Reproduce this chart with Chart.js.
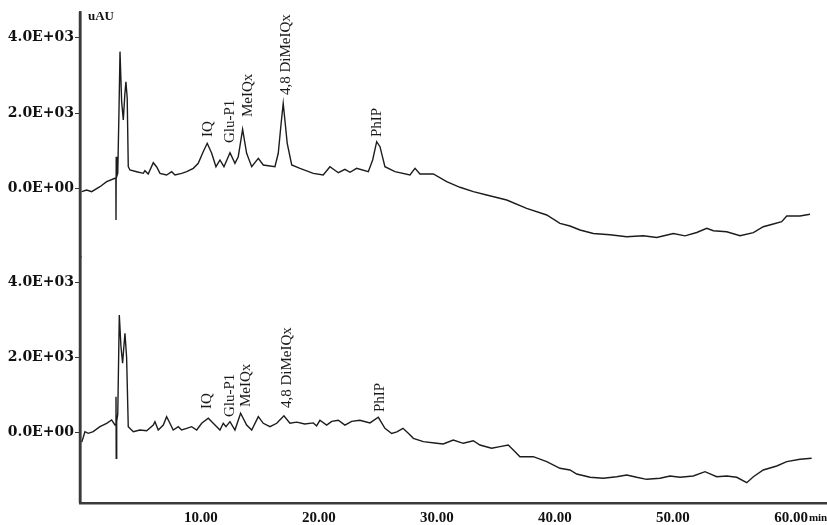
<!DOCTYPE html>
<html>
<head>
<meta charset="utf-8">
<title>HPLC chromatograms</title>
<script src="https://cdn.jsdelivr.net/npm/chart.js@4.4.1/dist/chart.umd.min.js"></script>
<style>
  html, body { margin: 0; padding: 0; background: #fff; }
  #wrap { width: 827px; height: 525px; }
</style>
</head>
<body>
<div id="wrap"><canvas id="chromChart" width="827" height="525"></canvas></div>
<script>
// retention time (min) and signal (uAU)
const topTime = [
    -0.1, 0.31, 0.74, 1.44, 2.01, 2.71, 2.79, 2.8, 2.82, 2.86,
    2.95, 3.05, 3.14, 3.28, 3.42, 3.55, 3.64, 3.75, 3.84, 3.98,
    4.55, 5.11, 5.25, 5.53, 5.96, 6.25, 6.53, 7.09, 7.52, 7.8,
    8.36, 8.79, 9.35, 9.77, 10.19, 10.53, 10.91, 11.27, 11.61, 11.95,
    12.46, 12.88, 13.16, 13.53, 13.87, 14.3, 14.86, 15.28, 16.27, 16.55,
    16.78, 16.97, 17.31, 17.69, 18.39, 19.52, 20.36, 20.93, 21.64, 22.2,
    22.63, 23.19, 24.18, 24.55, 24.89, 25.17, 25.59, 26.44, 27.71, 28.14,
    28.56, 29.69, 30.82, 31.95, 33.08, 34.21, 35.91, 37.6, 39.3, 40.42,
    41.27, 42.12, 43.25, 44.66, 46.08, 47.48, 48.62, 50.03, 51.02, 52.01,
    52.86, 53.42, 54.55, 55.68, 56.81, 57.65, 58.5, 59.21, 59.64, 60.76,
    61.61
];
const topSignal = [
    -90, -45, -90, 42, 175, 266, 266, -840, 840, 310,
    400, 2000, 3630, 2300, 1814, 2500, 2831, 2400, 574, 486,
    441, 398, 467, 380, 680, 566, 398, 353, 441, 353,
    398, 441, 531, 664, 972, 1195, 930, 574, 752, 574,
    946, 664, 839, 1567, 930, 574, 797, 619, 574, 930,
    1681, 2258, 1195, 619, 531, 398, 353, 574, 414, 505,
    425, 531, 441, 752, 1238, 1105, 574, 441, 353, 531,
    380, 380, 175, 27, -90, -178, -311, -531, -709, -930,
    -1001, -1108, -1200, -1235, -1288, -1262, -1306, -1200, -1262, -1174,
    -1062, -1126, -1153, -1259, -1179, -1020, -948, -887, -736, -736,
    -690
];
const botTime = [
    -0.1, 0.17, 0.45, 0.87, 1.44, 2.01, 2.43, 2.71, 2.78, 2.8,
    2.82, 2.86, 2.95, 3.08, 3.22, 3.36, 3.47, 3.56, 3.7, 3.84,
    4.27, 4.83, 5.4, 5.96, 6.1, 6.38, 6.81, 7.09, 7.37, 7.65,
    8.08, 8.36, 8.79, 9.21, 9.64, 10.06, 10.62, 11.04, 11.61, 11.89,
    12.12, 12.46, 12.88, 13.36, 13.87, 14.3, 14.86, 15.28, 15.85, 16.42,
    17.03, 17.54, 18.11, 18.8, 19.52, 19.8, 20.08, 20.65, 21.08, 21.64,
    22.2, 22.77, 23.47, 24.32, 25.03, 25.59, 26.16, 26.6, 27.12, 27.57,
    28.0, 28.84, 29.97, 30.53, 31.38, 32.23, 33.08, 33.64, 34.63, 35.34,
    36.04, 36.47, 37.03, 38.16, 39.3, 40.42, 41.27, 41.84, 42.97, 44.09,
    45.23, 46.08, 46.92, 47.77, 48.9, 49.75, 50.59, 51.72, 52.71, 53.7,
    54.55, 55.4, 56.25, 56.81, 57.65, 58.79, 59.64, 60.76, 61.75
];
const botSignal = [
    -250, 27, -16, 27, 160, 250, 338, 205, 205, 958,
    -681, 300, 500, 3131, 2300, 1846, 2300, 2644, 2000, 160,
    27, 72, 53, 205, 293, 72, 205, 426, 250, 72,
    160, 72, 117, 160, 72, 250, 383, 250, 72, 250,
    160, 293, 72, 516, 205, 72, 426, 250, 160, 250,
    452, 250, 280, 230, 260, 180, 330, 200, 300, 330,
    200, 300, 330, 260, 410, 117, -20, 20, 117, -16,
    -149, -239, -282, -301, -194, -282, -213, -327, -415, -372,
    -327, -460, -638, -638, -771, -947, -992, -1100, -1186, -1213,
    -1170, -1125, -1186, -1240, -1213, -1152, -1186, -1152, -1037, -1170,
    -1152, -1186, -1330, -1170, -992, -886, -771, -708, -681
];

// peak names, with where the rotated label starts for each trace
const peakNames = ['IQ', 'Glu-P1', 'MeIQx', '4,8 DiMeIQx', 'PhIP'];
const topLabelTime = [10.59, 12.46, 13.98, 17.2, 24.92];
const topLabelBase = [1362, 1203, 1894, 2478, 1362];
const botLabelTime = [10.51, 12.46, 13.81, 17.29, 25.17];
const botLabelBase = [630, 418, 684, 657, 551];

const xTicks = [10, 20, 30, 40, 50, 60];
const yTicks = [0, 2000, 4000];

Chart.defaults.font.family = '"Liberation Serif"';

function sciLabel(v) {
    if (v === 0) return '0.0E+00';
    const e = Math.floor(Math.log10(Math.abs(v)));
    const m = v / Math.pow(10, e);
    return m.toFixed(1) + 'E' + (e < 0 ? '-' : '+') + String(Math.abs(e)).padStart(2, '0');
}

function toPoints(times, values) {
    return times.map((t, i) => ({ x: t, y: values[i] }));
}

function yAxis(min, max) {
    return {
        type: 'linear',
        position: 'left',
        stack: 'uv',
        stackWeight: 1,
        min: min,
        max: max,
        afterBuildTicks: s => { s.ticks = yTicks.map(v => ({ value: v })); },
        afterFit: s => { s.width = 80; },
        grid: { drawOnChartArea: false, drawTicks: true, tickLength: 5, color: '#333', lineWidth: 1 },
        border: { color: '#3a3a3a', width: 2.5 },
        ticks: {
            color: '#111',
            padding: 1,
            font: { family: '"DejaVu Serif"', size: 14, weight: 'bold' },
            callback: v => sciLabel(v)
        }
    };
}

const peakLabels = {
    id: 'peakLabels',
    afterDatasetsDraw(chart) {
        const { ctx, scales, chartArea } = chart;
        ctx.save();

        // one unbroken y axis line over both stacked axes
        ctx.strokeStyle = '#3a3a3a';
        ctx.lineWidth = 2.5;
        ctx.beginPath();
        ctx.moveTo(chartArea.left, chartArea.top);
        ctx.lineTo(chartArea.left, chartArea.bottom);
        ctx.stroke();

        ctx.fillStyle = '#1a1a1a';
        ctx.font = '15px "Liberation Serif"';
        ctx.textAlign = 'left';
        ctx.textBaseline = 'middle';
        const draw = (times, bases, axis) => peakNames.forEach((name, i) => {
            const px = scales.x.getPixelForValue(times[i]);
            const py = scales[axis].getPixelForValue(bases[i]);
            ctx.save();
            ctx.translate(px, py);
            ctx.rotate(-Math.PI / 2);
            ctx.fillText(name, 0, 0);
            ctx.restore();
        });
        draw(topLabelTime, topLabelBase, 'yTop');
        draw(botLabelTime, botLabelBase, 'yBot');

        // unit captions
        ctx.fillStyle = '#111';
        ctx.font = 'bold 13px "Liberation Serif"';
        ctx.fillText('uAU', 88, 17);
        ctx.font = 'bold 15px "Liberation Serif"';
        const w = ctx.measureText('60.00').width;
        const x60 = scales.x.getPixelForValue(60);
        ctx.font = 'bold 11px "Liberation Serif"';
        ctx.textBaseline = 'alphabetic';
        ctx.fillText('min', x60 + w / 2 + 1, scales.x.top + 18);
        ctx.restore();
    }
};

new Chart(document.getElementById('chromChart'), {
    type: 'line',
    data: {
        datasets: [
            { label: 'top', data: toPoints(topTime, topSignal), yAxisID: 'yTop' },
            { label: 'bottom', data: toPoints(botTime, botSignal), yAxisID: 'yBot' }
        ]
    },
    options: {
        responsive: false,
        animation: false,
        layout: { padding: { top: 12, left: 0, right: 0, bottom: 0 } },
        elements: {
            line: { borderColor: '#1c1c1c', borderWidth: 1.4, tension: 0 },
            point: { radius: 0 }
        },
        plugins: { legend: { display: false }, tooltip: { enabled: false } },
        scales: {
            x: {
                type: 'linear',
                min: -0.25,
                max: 63.05,
                grid: { display: false, drawTicks: false },
                border: { color: '#3a3a3a', width: 2.5 },
                afterBuildTicks: s => { s.ticks = xTicks.map(v => ({ value: v })); },
                afterFit: s => { s.height = 22; },
                ticks: {
                    color: '#111',
                    padding: 6,
                    maxRotation: 0,
                    font: { size: 15, weight: 'bold' },
                    callback: v => Number(v).toFixed(2)
                }
            },
            // stacked axes are laid out bottom-up in definition order
            yBot: yAxis(-1870, 4660),
            yTop: yAxis(-1838, 4683)
        }
    },
    plugins: [peakLabels]
});
</script>
</body>
</html>
